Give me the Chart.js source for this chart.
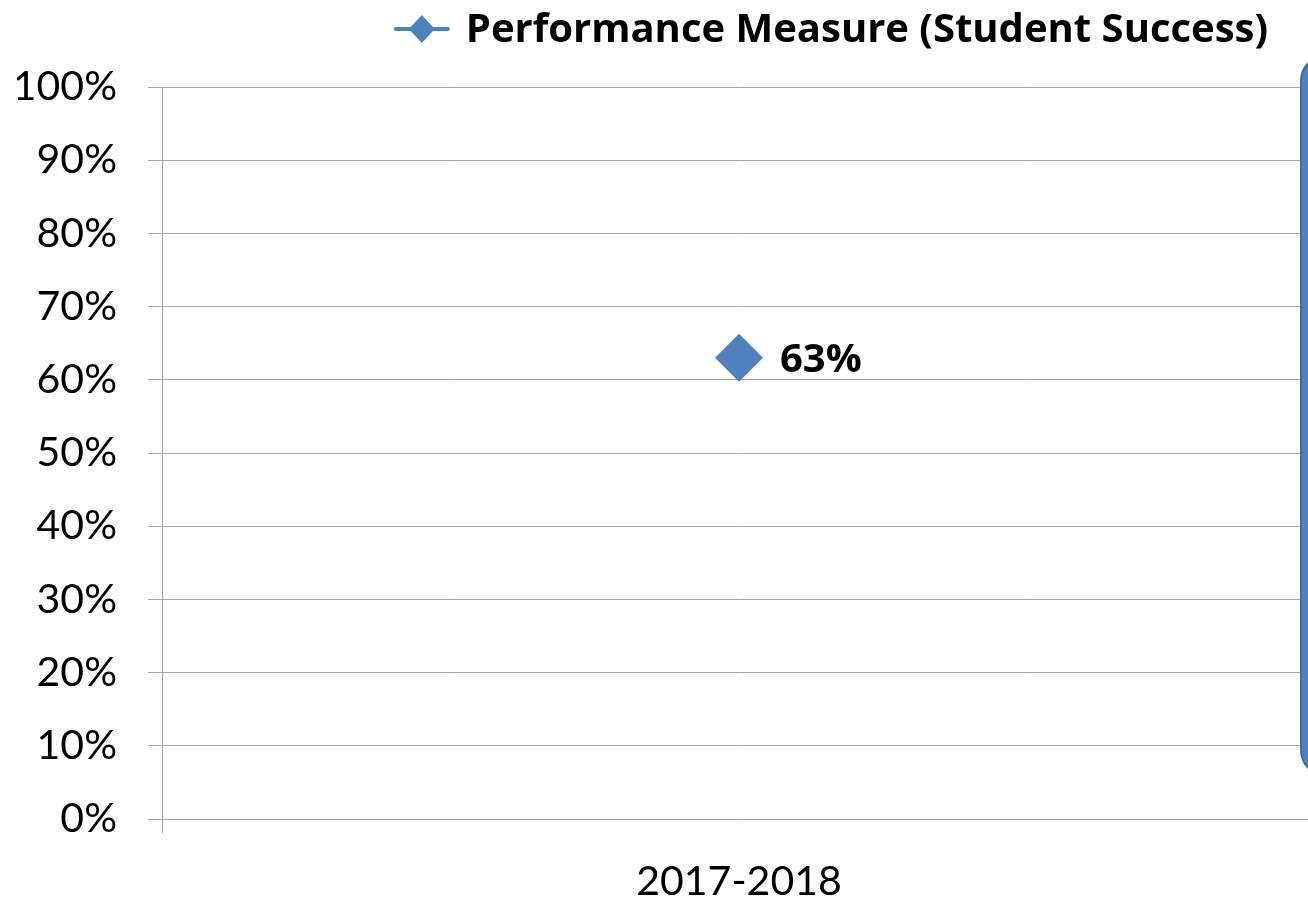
<!DOCTYPE html>
<html lang="en">
<head>
    <meta charset="UTF-8">
    <title>Performance Measure (Student Success)</title>
    <script src="https://cdn.jsdelivr.net/npm/chart.js"></script>
    <style>
        html, body {
            margin: 0;
            padding: 0;
            overflow: hidden;
            background: #ffffff;
        }
        .wrap {
            position: relative;
            width: 1316px;
            height: 900px;
        }
    </style>
</head>
<body>
    <div class="wrap">
        <canvas id="perfChart" width="1316" height="900"></canvas>
    </div>
    <script>
        // chart data
        const years = ['2017-2018'];
        const studentSuccess = [0.63];
        const seriesName = 'Performance Measure (Student Success)';
        const yTicks = [0, 0.1, 0.2, 0.3, 0.4, 0.5, 0.6, 0.7, 0.8, 0.9, 1];

        const BLUE = '#4F81BD';
        const GRID = '#a6a6a6';
        const FONT = 'Lato, "Open Sans", sans-serif';
        const BOLD_FONT = '"Open Sans", Lato, sans-serif';

        // legend drawn at the top, right aligned (line + diamond marker, bold text)
        const topLegend = {
            id: 'topLegend',
            afterDraw(chart) {
                const ctx = chart.ctx;
                ctx.save();
                ctx.font = 'bold 40px ' + BOLD_FONT;
                ctx.textBaseline = 'middle';
                ctx.fillStyle = '#000';
                const y = 29;
                const textRight = 1268;
                const w = ctx.measureText(seriesName).width;
                const textX = textRight - w;
                ctx.fillText(seriesName, textX, y + 2);
                // marker
                const mx = textX - 44;
                ctx.strokeStyle = BLUE;
                ctx.lineWidth = 4;
                ctx.lineCap = 'round';
                ctx.beginPath();
                ctx.moveTo(mx - 26, y);
                ctx.lineTo(mx + 26, y);
                ctx.stroke();
                ctx.fillStyle = BLUE;
                ctx.beginPath();
                ctx.moveTo(mx, y - 14);
                ctx.lineTo(mx + 13, y);
                ctx.lineTo(mx, y + 14);
                ctx.lineTo(mx - 13, y);
                ctx.closePath();
                ctx.fill();
                ctx.restore();
            }
        };

        // value label beside each point
        const pointLabels = {
            id: 'pointLabels',
            afterDatasetsDraw(chart) {
                const ctx = chart.ctx;
                const meta = chart.getDatasetMeta(0);
                ctx.save();
                ctx.font = 'bold 40px ' + BOLD_FONT;
                ctx.fillStyle = '#000';
                ctx.textBaseline = 'middle';
                meta.data.forEach((pt, i) => {
                    const v = chart.data.datasets[0].data[i];
                    ctx.fillText(Math.round(v * 100) + '%', pt.x + 41, pt.y + 3);
                });
                ctx.restore();
            }
        };

        // rounded blue shape cut off at the right edge of the slide
        const sideShape = {
            id: 'sideShape',
            afterDraw(chart) {
                const ctx = chart.ctx;
                ctx.save();
                ctx.fillStyle = BLUE;
                ctx.strokeStyle = '#3d6aa0';
                ctx.lineWidth = 2;
                ctx.beginPath();
                ctx.roundRect(1301, 55, 80, 721, 26);
                ctx.fill();
                ctx.stroke();
                ctx.restore();
            }
        };

        const ctx = document.getElementById('perfChart').getContext('2d');
        new Chart(ctx, {
            type: 'line',
            data: {
                labels: years,
                datasets: [{
                    label: seriesName,
                    data: studentSuccess,
                    borderColor: BLUE,
                    backgroundColor: BLUE,
                    borderWidth: 3,
                    pointStyle: 'rectRot',
                    pointRadius: 24,
                    pointHoverRadius: 24,
                    pointBorderWidth: 0
                }]
            },
            options: {
                responsive: false,
                animation: false,
                layout: {
                    autoPadding: false,
                    padding: { top: 87, left: 17, right: 0, bottom: 0 }
                },
                plugins: {
                    legend: { display: false },
                    tooltip: { enabled: false }
                },
                scales: {
                    x: {
                        offset: true,
                        afterFit(axis) { axis.height = 81; },
                        grid: {
                            offset: true,
                            color: GRID,
                            lineWidth: 1,
                            drawOnChartArea: false,
                            tickLength: 14
                        },
                        border: { color: GRID },
                        ticks: {
                            color: '#000',
                            padding: 32,
                            font: { family: FONT, size: 41, lineHeight: 0.8 }
                        }
                    },
                    y: {
                        min: 0,
                        max: 1,
                        afterFit(axis) { axis.width = 145; },
                        afterBuildTicks(axis) {
                            axis.ticks = yTicks.map(v => ({ value: v }));
                        },
                        grid: {
                            color: GRID,
                            lineWidth: 1,
                            tickLength: 14
                        },
                        border: { color: GRID },
                        ticks: {
                            color: '#000',
                            padding: 31,
                            font: { family: FONT, size: 41 },
                            callback: v => Math.round(v * 100) + '%'
                        }
                    }
                }
            },
            plugins: [pointLabels, topLegend, sideShape]
        });
    </script>
</body>
</html>
